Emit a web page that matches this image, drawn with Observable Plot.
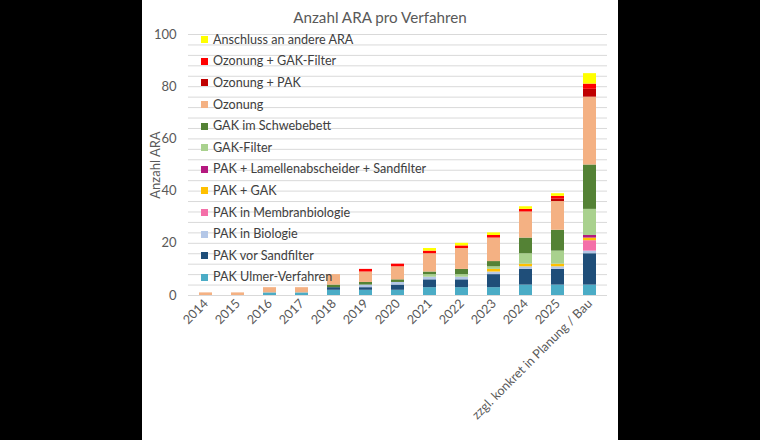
<!DOCTYPE html>
<html>
<head>
<meta charset="utf-8">
<script src="https://cdn.jsdelivr.net/npm/d3@7"></script>
<script src="https://cdn.jsdelivr.net/npm/@observablehq/plot@0.6"></script>
<style>
  html, body { margin: 0; padding: 0; background: #000; width: 760px; height: 440px; overflow: hidden; }
  #panel { position: absolute; left: 142px; top: 0; width: 476px; height: 440px; background: #fff; font-family: Lato, "Open Sans", sans-serif; }
  #title { height: 20px; line-height: 34px; text-align: center; font-size: 15.2px; color: #595959; white-space: nowrap; }
  #legend { position: absolute; left: 59px; top: 29px; font-size: 12.6px; color: #404040; }
  .item { height: 21.6px; line-height: 20px; display: flex; align-items: center; white-space: nowrap; }
  .sw { width: 7px; height: 7px; margin-right: 5px; flex: none; }
</style>
</head>
<body>
<div id="panel">
  <div id="title">Anzahl ARA pro Verfahren</div>
  <div id="chart"></div>
  <div id="legend"></div>
</div>
<script>
// Categories (x axis)
const categories = ["2014","2015","2016","2017","2018","2019","2020","2021","2022","2023","2024","2025","zzgl. konkret in Planung / Bau"];

// Series (stack order bottom -> top)
const seriesNames = [
  "PAK Ulmer-Verfahren",
  "PAK vor Sandfilter",
  "PAK in Biologie",
  "PAK in Membranbiologie",
  "PAK + GAK",
  "PAK + Lamellenabscheider + Sandfilter",
  "GAK-Filter",
  "GAK im Schwebebett",
  "Ozonung",
  "Ozonung + PAK",
  "Ozonung + GAK-Filter",
  "Anschluss an andere ARA"
];
const seriesColors = [
  "#4bacc6", "#1f4e79", "#b4c7e7", "#f46fa8", "#ffc000", "#b5197f",
  "#a9d18e", "#548235", "#f4b183", "#c00000", "#ff0000", "#ffff00"
];

const pakUlmer      = [0,0,1,1,2,2,2,3,3,3,4,4,4];
const pakSandfilter = [0,0,0,0,1,1,2,3,3,5,6,6,12];
const pakBiologie   = [0,0,0,0,0,1,1,1,1,1,1,1,1];
const pakMembran    = [0,0,0,0,0,0,0,0,0,0,0,0,4];
const pakGak        = [0,0,0,0,0,0,0,0,0,1,1,1,1];
const pakLamellen   = [0,0,0,0,0,0,0,0,0,0,0,0,1];
const gakFilter     = [0,0,0,0,0,0,0,1,1,1,4,5,10];
const gakSchwebe    = [0,0,0,0,1,1,1,1,2,2,6,8,17];
const ozonung       = [1,1,2,2,4,4,5,7,8,9,10,11,26];
const ozonungPak    = [0,0,0,0,0,0,0,0,0,0,0,1,3];
const ozonungGak    = [0,0,0,0,0,1,1,1,1,1,1,1,2];
const anschluss     = [0,0,0,0,0,0,0,1,1,1,1,1,4];

const seriesValues = [pakUlmer, pakSandfilter, pakBiologie, pakMembran, pakGak, pakLamellen,
  gakFilter, gakSchwebe, ozonung, ozonungPak, ozonungGak, anschluss];

// Y axis ticks
const yLabelTicks = [0, 20, 40, 60, 80, 100];
const yGridTicks = d3.range(0, 101, 4);

const data = [];
seriesNames.forEach((s, i) => {
  categories.forEach((c, j) => {
    data.push({category: c, series: s, value: seriesValues[i][j]});
  });
});

const chart = Plot.plot({
  width: 476,
  height: 420,
  marginLeft: 46,
  marginRight: 11,
  marginTop: 14,
  marginBottom: 145,
  style: {fontFamily: "Lato, 'Open Sans', sans-serif", color: "#595959", background: "transparent", overflow: "visible"},
  x: {domain: categories, paddingInner: 0.6, paddingOuter: 0.3, label: null},
  y: {domain: [0, 100], label: null},
  color: {domain: seriesNames, range: seriesColors},
  marks: [
    Plot.ruleY(yGridTicks, {stroke: "#d9d9d9", strokeWidth: 1}),
    Plot.barY(data, {x: "category", y: "value", fill: "series", order: seriesNames}),
    Plot.axisY(yLabelTicks, {tickSize: 0, tickPadding: 12, fontSize: 13, fill: "#595959",
      label: "Anzahl ARA", labelAnchor: "center", labelArrow: "none", labelOffset: 38}),
    Plot.axisX({tickRotate: -45, tickSize: 0, tickPadding: 6, fontSize: 12.6, fill: "#595959", label: null})
  ]
});
document.getElementById("chart").appendChild(chart);

// Legend (top entry = top of stack)
const legend = document.getElementById("legend");
for (let i = seriesNames.length - 1; i >= 0; i--) {
  const item = document.createElement("div");
  item.className = "item";
  const sw = document.createElement("span");
  sw.className = "sw";
  sw.style.background = seriesColors[i];
  const t = document.createElement("span");
  t.textContent = seriesNames[i];
  item.appendChild(sw);
  item.appendChild(t);
  legend.appendChild(item);
}
</script>
</body>
</html>
